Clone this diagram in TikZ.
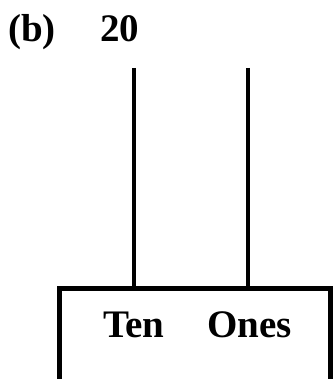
\documentclass[tikz,border=0pt]{standalone}
\usepackage{fontspec}
\setmainfont{Liberation Serif}
\begin{document}
\begin{tikzpicture}[x=1pt,y=-1pt,
  lbl/.style={inner sep=0pt,anchor=base west,font=\fontsize{39}{44}\selectfont\bfseries},
  frame/.style={draw,line width=4.5pt,inner sep=0pt,anchor=north west,minimum width=271pt,minimum height=95pt},
  stem/.style={line width=4.2pt}]
\useasboundingbox (0,0) rectangle (333,379);
\clip (0,0) rectangle (333,379);
\node[lbl] (b) at (8,42) {(b)};
\node[lbl] (n) at (100,42) {20};
\node[frame] (box) at (57,286) {};
\node[lbl] (ten) at (103,337) {Ten};
\node[lbl] (ones) at (207,337) {Ones};
\coordinate (t1) at (134,68);
\coordinate (t2) at (248,68);
\draw[stem] (t1) -- (t1 |- box.north);
\draw[stem] (t2) -- (t2 |- box.north);
\end{tikzpicture}
\end{document}
